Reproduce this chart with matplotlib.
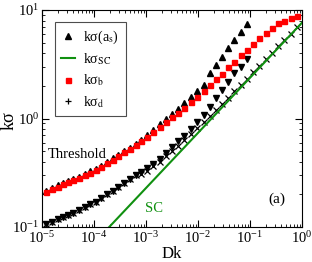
import matplotlib
matplotlib.use("Agg")
import matplotlib.pyplot as plt
from matplotlib.lines import Line2D
from matplotlib.ticker import LogLocator, NullFormatter

plt.rcParams["font.family"] = ["Liberation Serif", "DejaVu Serif"]
plt.rcParams["mathtext.fontset"] = "stix"

# Dk grid shared by all marker series
dk = [1.20e-5, 1.55e-5, 2.00e-5, 2.51e-5, 3.16e-5, 3.98e-5, 5.13e-5, 6.61e-5,
      8.32e-5, 1.07e-4, 1.38e-4, 1.78e-4, 2.29e-4, 2.95e-4, 3.80e-4, 4.90e-4,
      6.31e-4, 8.13e-4, 1.05e-3, 1.38e-3, 1.82e-3, 2.40e-3, 3.16e-3, 4.17e-3,
      5.50e-3, 7.24e-3, 9.77e-3, 1.29e-2, 1.70e-2, 2.22e-2, 2.85e-2, 3.80e-2,
      5.01e-2, 6.61e-2, 8.71e-2, 0.116, 0.151, 0.200, 0.261, 0.351, 0.457,
      0.607, 0.791]

# k sigma_b (red squares)
sig_b = [0.209, 0.223, 0.236, 0.247, 0.260, 0.271, 0.283, 0.299, 0.316, 0.335,
         0.357, 0.385, 0.417, 0.452, 0.490, 0.525, 0.569, 0.617, 0.676, 0.755,
         0.839, 0.923, 1.026, 1.130, 1.259, 1.409, 1.567, 1.778, 2.037, 2.312,
         2.570, 2.965, 3.342, 3.846, 4.276, 4.864, 5.483, 6.095, 6.776, 7.534,
         7.925, 8.375, 8.810]

# k sigma(a_s) (up triangles), first 35 Dk points
sig_as = [0.215, 0.229, 0.243, 0.254, 0.267, 0.279, 0.291, 0.307, 0.325, 0.344,
          0.367, 0.396, 0.429, 0.465, 0.504, 0.540, 0.586, 0.637, 0.701, 0.789,
          0.883, 0.984, 1.099, 1.225, 1.380, 1.567, 1.778, 2.042, 2.642, 3.112,
          3.715, 4.436, 5.297, 6.310, 7.379]

# down triangles, first 35 Dk points
sig_dn = [0.1067, 0.1119, 0.1178, 0.1227, 0.1291, 0.1355, 0.1435, 0.1521,
          0.1618, 0.1710, 0.1841, 0.1995, 0.2163, 0.2344, 0.2541, 0.2754,
          0.2985, 0.3236, 0.3508, 0.3846, 0.4266, 0.4786, 0.5470, 0.6166,
          0.6950, 0.8072, 0.9333, 1.084, 1.285, 1.535, 1.832, 2.183, 2.612,
          2.999, 3.516]

# k sigma_d (crosses)
sig_d = [0.1067, 0.1119, 0.1178, 0.1227, 0.1291, 0.1355, 0.1435, 0.1521,
         0.1618, 0.1710, 0.1841, 0.1995, 0.2163, 0.2344, 0.2541, 0.2754,
         0.2985, 0.309, 0.331, 0.363, 0.398, 0.447, 0.501, 0.562, 0.631, 0.716,
         0.822, 0.933, 1.059, 1.202, 1.355, 1.556, 1.778, 2.032, 2.323, 2.673,
         3.048, 3.499, 3.981, 4.613, 5.260, 6.053, 6.918]

# k sigma_SC (green line)
sc_dk = [1.0e-4, 1.0]
sc_val = [0.071, 7.64]

green = "#109010"

fig = plt.figure(figsize=(3.12, 2.62), dpi=100)
ax = fig.add_axes([0.1346, 0.1336, 0.8333, 0.8282])

ax.plot(dk, sig_d, ls="none", marker="x", ms=4.0, mew=0.9, color="k", zorder=2)
ax.plot(dk[:len(sig_dn)], sig_dn, ls="none", marker="v", ms=4.5, color="k", zorder=3)
ax.plot(sc_dk, sc_val, color=green, lw=1.5, zorder=4)
ax.plot(dk[:len(sig_as)], sig_as, ls="none", marker="^", ms=4.5, color="k", zorder=3)
ax.plot(dk, sig_b, ls="none", marker="s", ms=3.6, color="red", mec="red", zorder=5)

ax.set_xscale("log")
ax.set_yscale("log")
ax.set_xlim(1e-5, 1)
ax.set_ylim(1e-1, 1e1)
ax.xaxis.set_major_locator(LogLocator(base=10, numticks=12))
ax.xaxis.set_minor_locator(LogLocator(base=10, subs=range(2, 10), numticks=12))
ax.xaxis.set_minor_formatter(NullFormatter())
ax.yaxis.set_minor_formatter(NullFormatter())
ax.tick_params(which="both", direction="in", top=True, right=True, labelsize=10.5)
ax.tick_params(which="major", length=5, pad=2)
ax.tick_params(which="minor", length=2.5)

ax.set_xlabel("Dk", fontsize=12)
ax.xaxis.set_label_coords(0.5, -0.125)
ax.xaxis.label.set_va("center")
ax.set_ylabel("kσ", fontsize=13)
ax.yaxis.set_label_coords(-0.125, 0.49)
ax.yaxis.label.set_va("center")

ax.text(0.023, 0.336, "Threshold", transform=ax.transAxes, fontsize=10.5,
        ha="left", va="center")
ax.text(0.396, 0.083, "SC", transform=ax.transAxes, fontsize=10.5,
        color=green, ha="left", va="center")
ax.text(0.869, 0.129, "(a)", transform=ax.transAxes, fontsize=11,
        ha="left", va="center")

handles = [
    Line2D([], [], ls="none", marker="^", ms=4.5, color="k"),
    Line2D([], [], color=green, lw=1.5),
    Line2D([], [], ls="none", marker="s", ms=3.6, color="red"),
    Line2D([], [], ls="none", marker="+", ms=5, mew=0.9, color="k"),
]
labels = ["kσ(a$_\\mathrm{s}$)", "kσ$_\\mathrm{SC}$",
          "kσ$_\\mathrm{b}$", "kσ$_\\mathrm{d}$"]
leg = ax.legend(handles, labels, loc="upper left", bbox_to_anchor=(0.05, 0.945),
                borderaxespad=0, fancybox=False, edgecolor="0.3", fontsize=10,
                handlelength=1.0, handletextpad=0.6, labelspacing=0.4,
                borderpad=0.45, framealpha=1)
leg.get_frame().set_linewidth(0.8)

fig.savefig("out.png", dpi=100)
